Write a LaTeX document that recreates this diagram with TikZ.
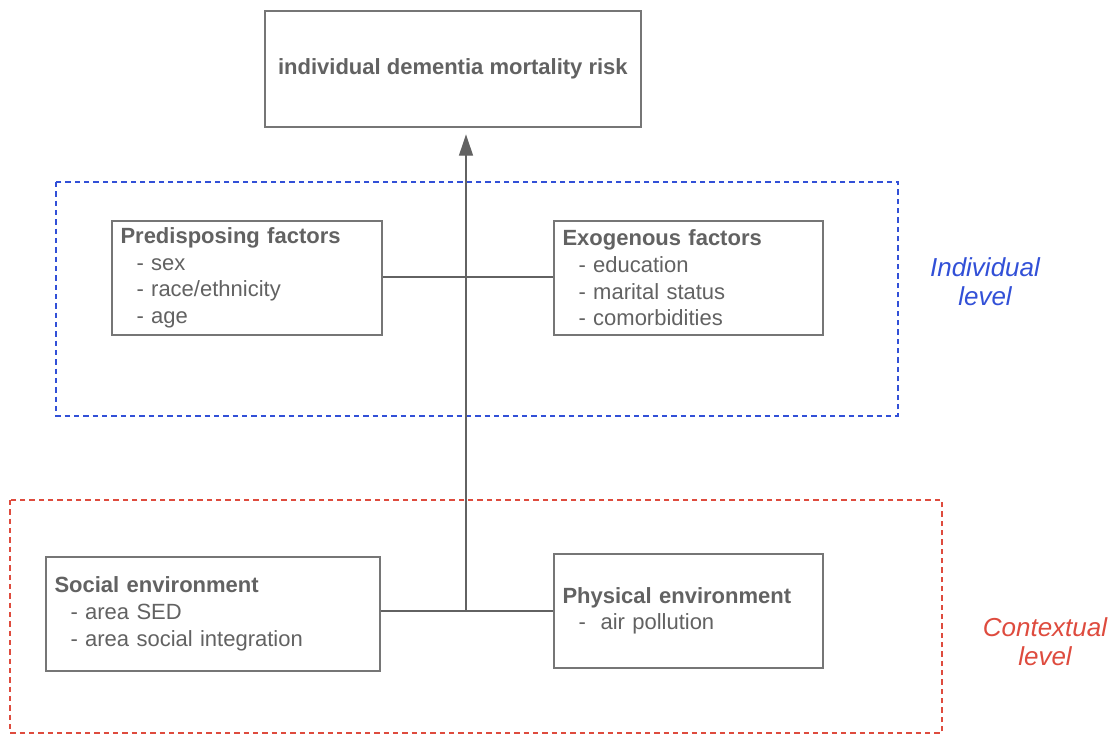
\documentclass[tikz,border=0pt]{standalone}
\usepackage{fontspec}
\setmainfont{Liberation Sans}
\usetikzlibrary{arrows.meta,shadows}
\definecolor{boxgray}{RGB}{118,118,118}
\definecolor{txtgray}{RGB}{98,98,98}
\definecolor{indblue}{RGB}{50,80,215}
\definecolor{ctxred}{RGB}{222,75,62}
\tikzset{
  factorbox/.style={draw=boxgray, line width=1.3pt, fill=white, anchor=north west,
    inner xsep=6.5pt, inner ysep=0pt, align=left, text=txtgray,
    font=\fontsize{16.5pt}{20pt}\selectfont,
    drop shadow={opacity=0.18, shadow xshift=0.8pt, shadow yshift=-0.8pt}},
  levelbox/.style={line width=1.1pt, dash pattern=on 4pt off 3pt},
  leveltext/.style={align=center, font=\fontsize{19.5pt}{22pt}\selectfont\itshape},
  conn/.style={draw=txtgray, line width=1.1pt}
}
\newcommand{\itm}{\hspace*{12pt}}
\begin{document}
\begin{tikzpicture}[x=0.75pt,y=-0.75pt]
\useasboundingbox (0,0) rectangle (1110,736);
% level boxes
\draw[levelbox, draw=indblue] (56,182) rectangle (898,416);
\draw[levelbox, draw=ctxred] (10,500) rectangle (942,733);
\node[leveltext, text=indblue] (indlab) at (985,282) {Individual\\level};
\node[leveltext, text=ctxred] (ctxlab) at (1045,642) {Contextual\\level};
% boxes
\node[factorbox, align=center, minimum width=282pt, minimum height=87pt,
      font=\fontsize{16.5pt}{20pt}\selectfont\bfseries] (top) at (264,10)
      {individual dementia mortality risk};
\node[factorbox, text width=189.5pt, minimum height=85.5pt] (pre) at (111,220)
      {\textbf{Predisposing factors}\\\itm- sex\\\itm- race/ethnicity\\\itm- age};
\node[factorbox, text width=188.75pt, minimum height=85.5pt] (exo) at (553,220)
      {\textbf{Exogenous factors}\\\itm- education\\\itm- marital status\\\itm- comorbidities};
\node[factorbox, text width=237.5pt, minimum height=85.5pt] (soc) at (45,556)
      {\textbf{Social environment}\\\itm- area SED\\\itm- area social integration};
\node[factorbox, text width=188.75pt, minimum height=85.5pt] (phy) at (553,553)
      {\textbf{Physical environment}\\\itm-\ \ air pollution};
% connectors
\coordinate (jn) at (466,611);
\coordinate (jm) at (466,277);
\draw[conn] (pre.east |- jm) -- (exo.west |- jm);
\draw[conn] (soc.east |- jn) -- (phy.west |- jn);
\draw[conn, -{Triangle[length=16pt,width=10.5pt]}, shorten >=5pt] (jn) -- (top.south -| jn);
\end{tikzpicture}
\end{document}
